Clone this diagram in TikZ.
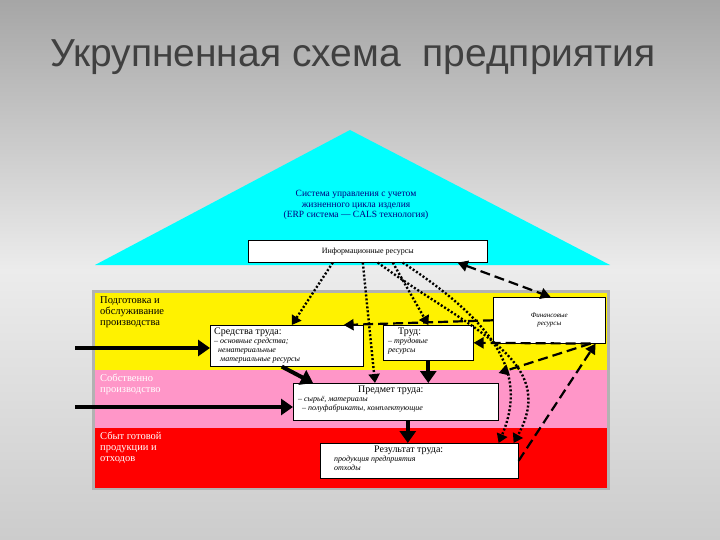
\documentclass[tikz,border=0pt]{standalone}
\usepackage{fontspec}
\setmainfont{Liberation Serif}
\newfontfamily\titlefont{Liberation Sans}
\usetikzlibrary{arrows.meta}
\definecolor{aqua}{RGB}{0,255,255}
\definecolor{pinkband}{RGB}{255,150,200}
\begin{document}
\begin{tikzpicture}[x=1pt,y=-1pt,
  wbox/.style={draw=black,fill=white,line width=0.6pt},
  solidarr/.style={line width=4pt,-{Triangle[length=12pt,width=16pt]}},
  dotarr/.style={line width=2.4pt,dash pattern=on 2pt off 2pt,-{Triangle[length=9pt,width=11pt]}},
  dasharr/.style={line width=2.2pt,dash pattern=on 10pt off 5pt,-{Triangle[length=10pt,width=11pt]}},
  lbl/.style={font=\fontsize{8}{9}\selectfont,align=left,anchor=north west,inner sep=0pt}]
\useasboundingbox (0,0) rectangle (720,540);
\shade[top color=gray!70,bottom color=gray!40,middle color=gray!15] (0,0) rectangle (720,540);
\node[font=\titlefont\fontsize{39}{42}\selectfont,text=black!75,anchor=west,inner sep=0pt] (title) at (50,57) {Укрупненная схема\ \ предприятия};
% roof
\fill[aqua] (350,130) -- (610,265) -- (95,265) -- cycle;
\node[font=\fontsize{9.5}{10.5}\selectfont,align=center,text=blue!50!black] (sys) at (356,205) {Система управления с учетом\\жизненного цикла изделия\\(ERP система — CALS технология)};
\node[wbox,minimum width=239pt,minimum height=22pt,anchor=north west,font=\fontsize{8}{9}\selectfont] (info) at (248,240) {Информационные ресурсы};
% bands
\fill[gray!60] (92,290) rectangle (610,490);
\fill[yellow] (95,293) rectangle (607,370);
\fill[pinkband] (95,370) rectangle (607,428);
\fill[red] (95,428) rectangle (607,488);
\node[lbl,font=\fontsize{10.5}{11}\selectfont] (l1) at (100,296) {Подготовка и\\обслуживание\\производства};
\node[lbl,font=\fontsize{10.5}{11}\selectfont,text=white] (l2) at (100,374) {Собственно\\производство};
\node[lbl,font=\fontsize{10.5}{11}\selectfont,text=white] (l3) at (100,432) {Сбыт готовой\\продукции и\\отходов};
% boxes
\node[wbox,minimum width=153pt,minimum height=41pt,anchor=north west] (sr) at (210,325) {};
\node[lbl] at (214,328) {{\fontsize{10}{10}\selectfont Средства труда:}\\\textit{– основные средства;}\\\textit{\ \ нематериальные}\\\textit{\ \ \ материальные ресурсы}};
\node[wbox,minimum width=90pt,minimum height=35pt,anchor=north west] (tr) at (383,325) {};
\node[lbl] at (388,328) {{\fontsize{10}{10}\selectfont \ \ \ \ Труд:}\\\textit{– трудовые}\\\textit{ресурсы}};
\node[wbox,minimum width=112pt,minimum height=46pt,anchor=north west,font=\fontsize{7}{8}\selectfont\itshape,align=center] (fin) at (493,297) {Финансовые\\ресурсы};
\node[wbox,minimum width=205pt,minimum height=37pt,anchor=north west] (pr) at (293,383) {};
\node[lbl] at (298,386) {\hspace*{60pt}{\fontsize{10}{10}\selectfont Предмет труда:}\\\textit{– сырьё, материалы}\\\textit{\ \ – полуфабрикаты, комплектующие}};
\node[wbox,minimum width=198pt,minimum height=35pt,anchor=north west] (res) at (320,443) {};
\node[lbl] at (334,446) {\hspace*{40pt}{\fontsize{10}{10}\selectfont Результат труда:}\\\textit{продукция предприятия}\\\textit{отходы}};
% inputs
\coordinate (in1) at (75,348);
\coordinate (in2) at (75,407);
\draw[solidarr] (in1) -- (sr.west |- in1);
\draw[solidarr] (in2) -- (pr.west |- in2);
\draw[solidarr] ([xshift=-5pt]sr.south) -- ([xshift=20pt]pr.north west);
\draw[solidarr] (tr.south) -- (tr.south |- pr.north);
\draw[solidarr] ([xshift=12pt]pr.south) -- ([xshift=12pt]pr.south |- res.north);
% dotted
\draw[dotarr] ([xshift=-35pt]info.south) -- ([xshift=5pt]sr.north);
\draw[dotarr] ([xshift=-5pt]info.south) -- (375,383);
\draw[dotarr] ([xshift=25pt]info.south) -- (tr.north);
\draw[dotarr] ([xshift=35pt]info.south) .. controls (490,320) and (530,370) .. ([xshift=-20pt]res.north east);
\draw[dotarr] ([xshift=10pt]info.south) .. controls (470,330) and (560,360) .. ([xshift=-5pt]res.north east);
% dashed
\draw[dasharr,{Triangle[length=10pt,width=11pt]}-{Triangle[length=10pt,width=11pt]}] ([xshift=-30pt]info.south east) -- ([xshift=-55pt]fin.north east);
\draw[dasharr] (fin.west) -- ([xshift=-20pt]sr.north east);
\draw[dasharr] ([xshift=-15pt]fin.south east) -- (tr.east);
\draw[dasharr] ([xshift=-15pt]fin.south east) -- ([yshift=10pt]pr.north east);
\draw[dasharr] (res.east) -- ([xshift=-10pt]fin.south east);
\end{tikzpicture}
\end{document}
